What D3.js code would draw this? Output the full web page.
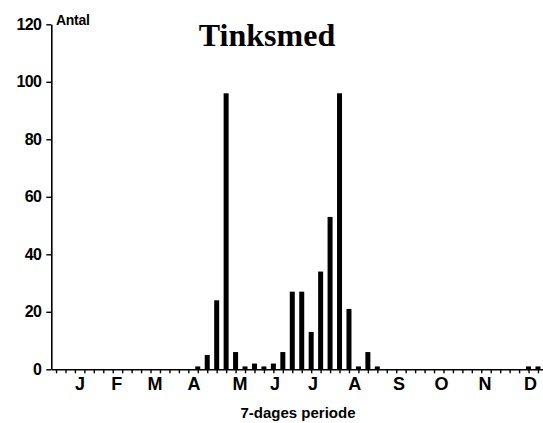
<!DOCTYPE html>
<html>
<head>
<meta charset="utf-8">
<script src="https://cdn.jsdelivr.net/npm/d3@7"></script>
<style>
  html, body { margin: 0; padding: 0; background: #fff; }
  svg { display: block; }
</style>
</head>
<body>
<svg id="chart" width="543" height="423"></svg>
<script>
// ---- data ----
const weeks = d3.range(1, 53);                 // 7-day periods 1..52
const counts = [
  0,0,0,0,0,0,0,0,0,0,       // 1-10
  0,0,0,0,0,1,5,24,96,6,     // 11-20
  1,2,1,2,6,27,27,13,34,53,  // 21-30
  96,21,1,6,1,0,0,0,0,0,     // 31-40
  0,0,0,0,0,0,0,0,0,0,       // 41-50
  1,1                        // 51-52
];
const monthLabels = ["J","F","M","A","M","J","J","A","S","O","N","D"];
const monthPos = [3.54, 7.42, 11.47, 15.6, 20.47, 24.17, 28.2, 32.6, 37.3, 41.8, 46.4, 51.2];
const yTicks = [0, 20, 40, 60, 80, 100, 120];
const title = "Tinksmed";
const yLabel = "Antal";
const xLabel = "7-dages periode";

// ---- layout ----
const svg = d3.select("#chart");
const x0 = 51.3, x1 = 542.7, yTop = 24.3, yBot = 369.3;

const xLin = d3.scaleLinear().domain([0.5, 52.5]).range([x0, x1]);
const y = d3.scaleLinear().domain([0, 120]).range([yBot, yTop]);

// bars
svg.append("g").selectAll("rect")
  .data(weeks.map((w, i) => ({ w, v: counts[i] })).filter(d => d.v > 0))
  .join("rect")
  .attr("x", d => xLin(d.w) - 2.5)
  .attr("width", 5)
  .attr("y", d => y(d.v))
  .attr("height", d => yBot - y(d.v))
  .attr("fill", "#000");

// y axis
const yAxis = svg.append("g")
  .attr("transform", `translate(${x0},0)`)
  .call(d3.axisLeft(y).tickValues(yTicks).tickSize(5).tickPadding(5).tickSizeOuter(0));
yAxis.select(".domain").attr("stroke", "#000").attr("stroke-width", 1.6);
yAxis.selectAll(".tick line").attr("stroke", "#000").attr("stroke-width", 1.4);
yAxis.selectAll(".tick text")
  .attr("font-family", "Liberation Sans, Arial, sans-serif")
  .attr("font-weight", "bold")
  .attr("font-size", 16)
  .attr("letter-spacing", -0.6)
  .attr("fill", "#000");

// x axis (ticks at each week centre)
const xAxis = svg.append("g")
  .attr("transform", `translate(0,${yBot})`)
  .call(d3.axisBottom(xLin).tickValues(weeks).tickSize(4).tickFormat("").tickSizeOuter(0));
xAxis.select(".domain").attr("stroke", "#000").attr("stroke-width", 1.6);
xAxis.selectAll(".tick line").attr("stroke", "#000").attr("stroke-width", 1.4);

// month labels
svg.append("g").selectAll("text")
  .data(monthLabels.map((m, i) => ({ m, p: monthPos[i] })))
  .join("text")
  .attr("x", d => xLin(d.p))
  .attr("y", 390)
  .attr("text-anchor", "middle")
  .attr("font-family", "Liberation Sans, Arial, sans-serif")
  .attr("font-weight", "bold")
  .attr("font-size", 18)
  .attr("fill", "#000")
  .text(d => d.m);

// y label "Antal"
svg.append("text")
  .attr("x", 56).attr("y", 25)
  .attr("font-family", "Liberation Sans, Arial, sans-serif")
  .attr("font-weight", "bold")
  .attr("font-size", 14)
  .attr("letter-spacing", -0.3)
  .attr("fill", "#000")
  .text(yLabel);

// title
svg.append("text")
  .attr("x", 267).attr("y", 46)
  .attr("text-anchor", "middle")
  .attr("font-family", "Liberation Serif, Times New Roman, serif")
  .attr("font-weight", "bold")
  .attr("font-size", 32)
  .attr("fill", "#000")
  .text(title);

// x label
svg.append("text")
  .attr("x", 298).attr("y", 418)
  .attr("text-anchor", "middle")
  .attr("font-family", "Liberation Sans, Arial, sans-serif")
  .attr("font-weight", "bold")
  .attr("font-size", 15)
  .attr("fill", "#000")
  .text(xLabel);
</script>
</body>
</html>
